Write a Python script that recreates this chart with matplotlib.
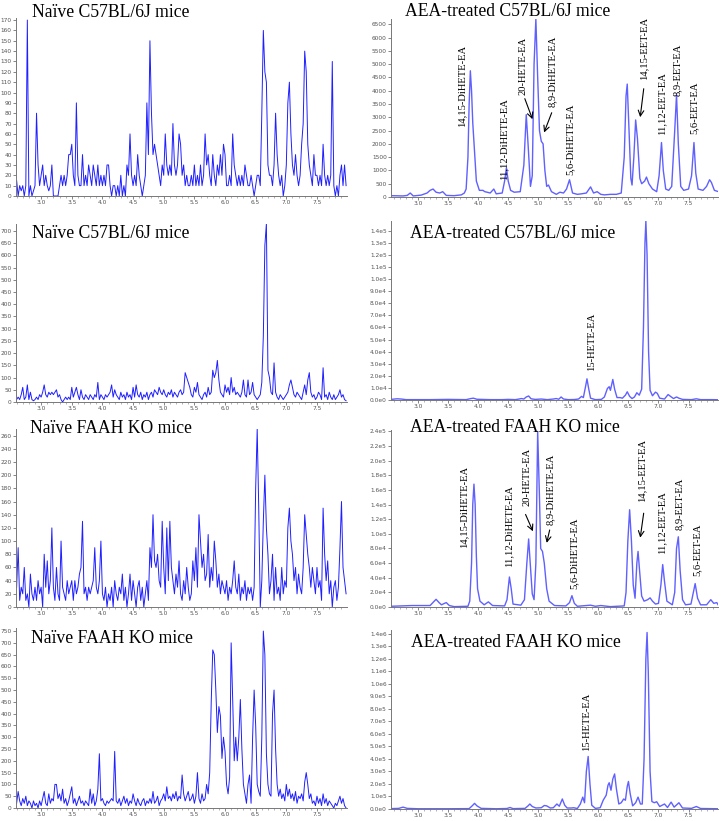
import matplotlib
matplotlib.use("Agg")
import matplotlib.pyplot as plt
from matplotlib.ticker import MultipleLocator, FuncFormatter
import numpy as np

W, H = 727, 821

# ---- noisy traces (naive mice), sampled every 0.025 min from 2.6 min ----
t_noisy = np.linspace(2.6, 7.975, 216)

naive_c57_a = [
    15, 0, 10, 5, 10, 0, 10, 170, 0, 10, 0, 5, 10, 80, 30, 10, 20, 30, 10, 20,
    10, 5, 10, 30, 0, 0, 0, 0, 10, 20, 10, 20, 10, 20, 40, 40, 50, 20, 10, 90,
    20, 10, 10, 40, 10, 20, 10, 30, 20, 10, 30, 20, 10, 30, 10, 20, 10, 20, 10, 30,
    30, 10, 0, 10, 10, 0, 10, 0, 20, 0, 10, 0, 30, 20, 60, 20, 10, 20, 10, 40,
    20, 10, 0, 10, 20, 90, 40, 150, 80, 40, 50, 40, 30, 20, 10, 30, 20, 60, 30, 20,
    30, 20, 70, 30, 20, 30, 60, 50, 20, 30, 10, 20, 10, 10, 20, 10, 30, 10, 20, 10,
    30, 10, 20, 60, 30, 40, 20, 10, 40, 20, 10, 30, 20, 40, 20, 50, 40, 10, 10, 20,
    10, 60, 30, 20, 10, 20, 10, 20, 10, 30, 20, 10, 10, 20, 10, 0, 10, 20, 20, 10,
    80, 160, 120, 110, 30, 20, 20, 10, 30, 80, 40, 20, 10, 20, 0, 10, 30, 90, 110, 60,
    30, 20, 40, 20, 10, 20, 50, 70, 140, 120, 50, 30, 20, 10, 40, 20, 20, 10, 20, 10,
    50, 20, 10, 20, 10, 20, 130, 10, 0, 10, 0, 20, 30, 10, 30, 10]

naive_c57_b = [
    10, 20, 10, 30, 60, 10, 20, 70, 10, 40, 10, 5, 10, 20, 10, 30, 20, 40, 70, 30,
    20, 40, 30, 40, 30, 40, 50, 20, 30, 10, 0, 10, 20, 10, 20, 10, 60, 20, 40, 60,
    30, 10, 50, 20, 10, 30, 20, 10, 30, 20, 10, 30, 20, 80, 10, 30, 20, 10, 30, 20,
    30, 40, 70, 20, 50, 30, 20, 10, 40, 20, 30, 10, 40, 20, 30, 10, 60, 20, 70, 30,
    20, 40, 10, 30, 20, 40, 10, 30, 40, 20, 50, 40, 30, 60, 40, 30, 50, 30, 20, 40,
    30, 50, 20, 40, 30, 20, 40, 50, 30, 40, 120, 100, 80, 60, 30, 20, 60, 40, 80, 30,
    20, 10, 30, 40, 20, 60, 30, 40, 130, 100, 120, 170, 90, 40, 30, 20, 70, 40, 60, 30,
    100, 40, 60, 30, 40, 30, 20, 40, 90, 30, 20, 90, 30, 40, 80, 30, 20, 10, 20, 30,
    80, 270, 640, 730, 130, 100, 40, 30, 160, 40, 20, 10, 30, 20, 10, 20, 30, 40, 70, 90,
    60, 30, 20, 40, 30, 20, 10, 40, 70, 30, 90, 120, 40, 20, 30, 10, 20, 40, 30, 10,
    140, 20, 30, 10, 40, 20, 10, 30, 10, 20, 30, 50, 20, 30, 10, 5]

naive_ko_a = [
    30, 90, 10, 30, 20, 60, 10, 20, 0, 50, 20, 10, 30, 10, 40, 20, 30, 0, 80, 30,
    70, 20, 40, 120, 30, 10, 60, 20, 10, 100, 30, 20, 10, 40, 20, 30, 40, 10, 40, 20,
    30, 50, 60, 130, 20, 30, 10, 30, 20, 30, 40, 90, 30, 20, 40, 100, 20, 10, 30, 0,
    20, 10, 30, 0, 40, 20, 10, 30, 20, 50, 10, 30, 0, 20, 50, 10, 40, 20, 0, 30,
    40, 10, 30, 0, 20, 40, 10, 90, 60, 140, 70, 60, 80, 40, 30, 130, 60, 20, 120, 40,
    130, 60, 40, 20, 50, 30, 70, 20, 10, 40, 20, 60, 30, 10, 20, 70, 40, 90, 30, 140,
    100, 60, 80, 40, 50, 110, 30, 60, 40, 100, 70, 30, 50, 20, 40, 30, 20, 40, 10, 30,
    20, 40, 70, 30, 20, 50, 10, 30, 20, 40, 10, 30, 20, 30, 10, 30, 180, 270, 150, 0,
    40, 130, 200, 120, 80, 20, 40, 80, 10, 60, 20, 30, 10, 60, 20, 40, 30, 120, 150, 100,
    80, 40, 60, 20, 50, 30, 20, 60, 140, 110, 80, 60, 30, 60, 40, 20, 60, 30, 40, 10,
    150, 80, 40, 70, 20, 40, 0, 30, 40, 10, 30, 90, 160, 60, 40, 20]

naive_ko_b = [
    20, 70, 30, 10, 40, 20, 50, 10, 30, 20, 0, 30, 10, 20, 0, 30, 10, 40, 70, 20,
    10, 60, 20, 40, 30, 100, 100, 40, 60, 30, 80, 20, 40, 10, 30, 60, 90, 20, 40, 10,
    30, 50, 20, 30, 10, 30, 20, 10, 80, 20, 60, 10, 30, 80, 230, 30, 40, 20, 10, 30,
    20, 30, 40, 30, 240, 30, 20, 40, 10, 30, 50, 20, 40, 10, 30, 20, 60, 30, 10, 40,
    20, 10, 30, 40, 10, 30, 20, 40, 20, 70, 20, 30, 50, 10, 30, 40, 60, 30, 90, 40,
    50, 30, 60, 40, 70, 30, 50, 40, 140, 60, 30, 50, 70, 30, 40, 60, 20, 50, 150, 40,
    20, 60, 30, 40, 100, 60, 150, 450, 670, 650, 500, 320, 430, 390, 210, 300, 240, 100, 60, 130,
    700, 460, 200, 300, 200, 300, 460, 250, 100, 60, 20, 100, 140, 20, 300, 500, 350, 100, 70, 50,
    300, 750, 650, 230, 100, 60, 50, 400, 500, 250, 100, 50, 80, 40, 60, 30, 100, 50, 80, 40,
    60, 30, 70, 20, 50, 40, 60, 30, 110, 150, 100, 40, 60, 20, 30, 10, 50, 20, 40, 10,
    60, 20, 40, 10, 30, 20, 10, 0, 20, 10, 30, 50, 20, 40, 10, 0]

# ---- smooth traces (AEA-treated mice) ----
aea_c57_a_t = [2.55, 2.75, 2.82, 2.87, 2.92, 3.05, 3.15, 3.2, 3.25, 3.3, 3.36, 3.41, 3.47,
               3.6, 3.72, 3.77, 3.8, 3.83, 3.85, 3.87, 3.89, 3.91, 3.94, 3.97, 4.02, 4.08,
               4.11, 4.15, 4.2, 4.26, 4.3, 4.4, 4.44, 4.47, 4.5, 4.54, 4.6, 4.7, 4.76, 4.8,
               4.83, 4.87, 4.9, 4.93, 4.96, 4.99, 5.02, 5.05, 5.08, 5.11, 5.14, 5.17, 5.22,
               5.3, 5.36, 5.42, 5.47, 5.52, 5.57, 5.65, 5.72, 5.8, 5.87, 5.92, 5.98, 6.04,
               6.1, 6.2, 6.3, 6.38, 6.43, 6.46, 6.48, 6.51, 6.54, 6.56, 6.59, 6.62, 6.65,
               6.69, 6.72, 6.77, 6.8, 6.84, 6.9, 6.97, 7.01, 7.05, 7.08, 7.12, 7.17, 7.22,
               7.27, 7.3, 7.33, 7.37, 7.42, 7.5, 7.55, 7.59, 7.62, 7.66, 7.74, 7.8, 7.85,
               7.88, 7.93, 8.0]
aea_c57_a_y = [50, 40, 60, 150, 40, 70, 150, 250, 300, 180, 150, 200, 60,
               50, 80, 150, 300, 1500, 3500, 4750, 4000, 2800, 1700, 600, 250, 250,
               200, 180, 150, 300, 120, 150, 600, 1100, 600, 250, 180, 200, 1200, 3100,
               2000, 400, 800, 5000, 6700, 4500, 2500, 2100, 2000, 1000, 400, 450, 200,
               100, 180, 150, 300, 650, 150, 100, 120, 150, 380, 150, 200, 100,
               80, 100, 100, 150, 1500, 3800, 4250, 2500, 700, 450, 1500, 2900, 2200,
               700, 500, 600, 750, 500, 300, 200, 800, 2050, 1000, 300, 250, 400,
               2500, 3850, 2000, 400, 250, 300, 800, 2050, 900, 300, 250, 400, 650,
               550, 250, 200]

aea_c57_b_t = [2.55, 2.65, 2.72, 2.8, 3.2, 3.5, 3.8, 3.88, 3.92, 3.98, 4.2, 4.4, 4.5, 4.62,
               4.68, 4.72, 4.76, 4.8, 4.84, 4.88, 4.95, 5.05, 5.15, 5.25, 5.3, 5.34, 5.38,
               5.42, 5.5, 5.6, 5.67, 5.72, 5.75, 5.79, 5.81, 5.84, 5.87, 5.95, 6.05, 6.1,
               6.15, 6.18, 6.2, 6.24, 6.27, 6.31, 6.36, 6.4, 6.45, 6.48, 6.52, 6.56, 6.6,
               6.64, 6.68, 6.72, 6.75, 6.775, 6.79, 6.81, 6.835, 6.86, 6.9, 6.95, 6.98,
               7.02, 7.1, 7.16, 7.2, 7.25, 7.3, 7.34, 7.4, 7.55, 7.63, 7.7, 7.9, 8.0]
aea_c57_b_y = [500, 1000, 800, 300, 300, 500, 300, 1200, 1500, 600, 300, 300, 500, 300,
               800, 1200, 800, 2500, 3300, 1000, 500, 800, 300, 800, 1200, 600, 2500,
               800, 300, 400, 800, 3000, 2000, 12000, 17500, 9000, 1500, 300, 500, 2500,
               9500, 11000, 8000, 17000, 9000, 2000, 2000, 1500, 4000, 6800, 3000, 1200, 2500,
               6000, 4000, 9000, 60000, 130000, 148000, 120000, 40000, 8000, 3500, 6500, 5500,
               1500, 800, 4500, 3000, 1200, 2500, 1500, 500, 300, 1000, 300, 300, 200]

aea_ko_a_t = [2.55, 2.9, 3.2, 3.27, 3.3, 3.35, 3.39, 3.44, 3.47, 3.52, 3.6, 3.83, 3.86, 3.89,
              3.91, 3.93, 3.95, 3.97, 3.99, 4.03, 4.1, 4.17, 4.24, 4.44, 4.48, 4.52, 4.55,
              4.58, 4.71, 4.77, 4.81, 4.84, 4.87, 4.9, 4.93, 4.96, 4.99, 5.02, 5.04, 5.07,
              5.1, 5.14, 5.18, 5.27, 5.46, 5.52, 5.56, 5.6, 5.65, 5.87, 5.95, 6.04, 6.2,
              6.43, 6.46, 6.49, 6.52, 6.55, 6.58, 6.61, 6.64, 6.66, 6.69, 6.72, 6.76, 6.82,
              6.86, 6.9, 6.95, 7.0, 7.04, 7.07, 7.1, 7.14, 7.23, 7.27, 7.3, 7.33, 7.36, 7.4,
              7.45, 7.54, 7.58, 7.61, 7.65, 7.7, 7.8, 7.84, 7.87, 7.92, 7.97, 8.0]
aea_ko_a_y = [1000, 2000, 2000, 8000, 10500, 6000, 3000, 5000, 6000, 2000, 500, 1000, 8000, 60000,
              140000, 168000, 140000, 70000, 25000, 8000, 3000, 7000, 2000, 1500, 10000, 41000, 25000,
              4000, 2500, 10000, 60000, 93000, 55000, 18000, 10000, 60000, 240000, 150000, 80000, 76000,
              60000, 25000, 8000, 2000, 1500, 6000, 15500, 5000, 1000, 2500, 1000, 2000, 500,
              1500, 20000, 90000, 133000, 90000, 30000, 12000, 60000, 76000, 45000, 15000, 8000, 10000,
              12500, 8000, 4000, 5000, 30000, 58000, 35000, 8000, 3000, 20000, 80000, 96000, 50000, 10000,
              3000, 4000, 20000, 32000, 12000, 3000, 3000, 7000, 10000, 5000, 6000, 2000]

aea_ko_b_t = [2.55, 2.68, 2.75, 2.82, 3.0, 3.5, 3.85, 3.9, 3.94, 3.98, 4.05, 4.3, 4.48, 4.53,
              4.58, 4.78, 4.83, 4.86, 4.9, 4.96, 5.05, 5.1, 5.14, 5.2, 5.25, 5.31, 5.35, 5.4,
              5.44, 5.48, 5.55, 5.59, 5.65, 5.7, 5.74, 5.77, 5.8, 5.83, 5.86, 5.89, 5.95, 6.03,
              6.08, 6.13, 6.16, 6.18, 6.21, 6.24, 6.27, 6.3, 6.34, 6.38, 6.42, 6.45, 6.48, 6.5,
              6.53, 6.57, 6.62, 6.66, 6.7, 6.73, 6.76, 6.79, 6.81, 6.83, 6.86, 6.89, 6.93, 6.97,
              7.02, 7.1, 7.15, 7.21, 7.26, 7.34, 7.4, 7.55, 7.63, 7.7, 8.0]
aea_ko_b_y = [3000, 5000, 15000, 5000, 2000, 2000, 3000, 25000, 45000, 25000, 5000, 2000, 4000, 12000,
              3000, 5000, 25000, 40000, 20000, 8000, 10000, 28000, 25000, 8000, 10000, 40000, 22000, 80000,
              30000, 8000, 8000, 10000, 4000, 40000, 95000, 50000, 300000, 420000, 200000, 30000, 5000, 10000,
              70000, 110000, 190000, 210000, 150000, 240000, 280000, 160000, 40000, 50000, 80000, 70000, 180000, 220000,
              120000, 25000, 50000, 95000, 40000, 40000, 400000, 1200000, 1410000, 1100000, 300000, 60000, 50000, 58000,
              20000, 40000, 12000, 55000, 15000, 50000, 8000, 5000, 20000, 4000, 2000]

# peak labels: (text, time, bottom of text, arrow tail, arrow head)
labels_c57 = [
    ("14,15-DiHETE-EA", 3.73, 2620, None, None),
    ("11,12-DiHETE-EA", 4.43, 630, None, None),
    ("20-HETE-EA", 4.75, 3850, (4.76, 3800), (4.92, 2830)),
    ("8,9-DiHETE-EA", 5.23, 3400, (5.24, 3270), (5.08, 2330)),
    ("5,6-DiHETE-EA", 5.53, 820, None, None),
    ("14,15-EET-EA", 6.76, 4420, (6.76, 4180), (6.69, 2900)),
    ("11,12-EET-EA", 7.05, 2330, None, None),
    ("8,9-EET-EA", 7.32, 3800, None, None),
    ("5,6-EET-EA", 7.59, 2390, None, None),
]
labels_ko = [
    ("14,15-DiHETE-EA", 3.76, 81000, None, None),
    ("11,12-DiHETE-EA", 4.51, 54600, None, None),
    ("20-HETE-EA", 4.81, 138000, (4.77, 130000), (4.93, 100000)),
    ("8,9-DiHETE-EA", 5.21, 111600, (5.2, 109000), (5.13, 84000)),
    ("5,6-DiHETE-EA", 5.59, 25000, None, None),
    ("14,15-EET-EA", 6.73, 143500, (6.76, 132000), (6.69, 91000)),
    ("11,12-EET-EA", 7.06, 72000, None, None),
    ("8,9-EET-EA", 7.34, 105600, None, None),
    ("5,6-EET-EA", 7.64, 42400, None, None),
]

titles = ["Naïve C57BL/6J mice", "AEA-treated C57BL/6J mice",
          "Naïve C57BL/6J mice", "AEA-treated C57BL/6J mice",
          "Naïve FAAH KO mice", "AEA-treated FAAH KO mice",
          "Naïve FAAH KO mice", "AEA-treated FAAH KO mice"]
# title anchor (x px, baseline y px)
title_pos = [(32, 17), (405, 16), (32, 238), (410, 238),
             (30, 433), (410, 432), (31, 643), (411, 647)]

serif = "Liberation Serif"


def sci_fmt(v, pos):
    if v == 0:
        return "0.0e0"
    e = int(np.floor(np.log10(abs(v)) + 1e-9))
    return "%.1fe%d" % (v / 10 ** e, e)


def px_axes(fig, x0, top, x1, bottom):
    return fig.add_axes([x0 / W, 1 - bottom / H, (x1 - x0) / W, (bottom - top) / H])


def style(ax, xlim, ylim, ystep, sci=False):
    ax.set_xlim(*xlim)
    ax.set_ylim(*ylim)
    for s in ["top", "right"]:
        ax.spines[s].set_visible(False)
    for s in ["left", "bottom"]:
        ax.spines[s].set_color("#777777")
        ax.spines[s].set_linewidth(0.7)
    ax.xaxis.set_major_locator(MultipleLocator(0.5))
    ax.xaxis.set_minor_locator(MultipleLocator(0.1))
    ax.xaxis.set_major_formatter(FuncFormatter(lambda v, p: "%.1f" % v))
    ax.yaxis.set_major_locator(MultipleLocator(ystep))
    if sci:
        ax.yaxis.set_major_formatter(FuncFormatter(sci_fmt))
    else:
        ax.yaxis.set_major_formatter(FuncFormatter(lambda v, p: "%d" % v))
    ax.tick_params(axis="both", which="major", labelsize=4.2, colors="#555555",
                   length=2, width=0.5, pad=1)
    ax.tick_params(axis="x", which="minor", length=1.2, width=0.4, colors="#777777")
    ax.set_facecolor("none")


fig = plt.figure(figsize=(W / 100, H / 100), dpi=100)

noisy_col = "#1f1fff"
smooth_col = "#6060ff"
xl_left = (2.59, 7.99)
xl_right = (2.55, 7.99)


def noisy(ax, vals):
    ax.plot(t_noisy, vals, color=noisy_col, lw=0.7)


# row 1
ax = px_axes(fig, 16, 18, 347, 196)
noisy(ax, naive_c57_a)
style(ax, xl_left, (0, 172), 10)

ax = px_axes(fig, 391, 19, 718, 197)
ax.plot(aea_c57_a_t, aea_c57_a_y, color=smooth_col, lw=1.0)
style(ax, xl_right, (0, 6700), 500)
for txt, tx, ty, tail, head in labels_c57:
    ax.text(tx, ty, txt, rotation=90, ha="center", va="bottom", fontsize=7.6, family=serif)
    if tail is not None:
        ax.annotate("", xy=head, xytext=tail,
                    arrowprops=dict(arrowstyle="->", color="black", lw=0.8))

# row 2
ax = px_axes(fig, 16, 224, 347, 402)
noisy(ax, naive_c57_b)
style(ax, xl_left, (0, 728), 50)

ax = px_axes(fig, 391, 221, 718, 400)
ax.plot(aea_c57_b_t, aea_c57_b_y, color=smooth_col, lw=1.0)
style(ax, xl_right, (0, 1.48e5), 1e4, sci=True)
ax.text(5.88, 24250, "15-HETE-EA", rotation=90, ha="center", va="bottom", fontsize=7.6, family=serif)

# row 3
ax = px_axes(fig, 16, 429, 347, 607)
noisy(ax, naive_ko_a)
style(ax, xl_left, (0, 270), 20)

ax = px_axes(fig, 391, 430, 718, 607)
ax.plot(aea_ko_a_t, aea_ko_a_y, color=smooth_col, lw=1.0)
style(ax, xl_right, (0, 2.42e5), 2e4, sci=True)
for txt, tx, ty, tail, head in labels_ko:
    ax.text(tx, ty, txt, rotation=90, ha="center", va="bottom", fontsize=7.6, family=serif)
    if tail is not None:
        ax.annotate("", xy=head, xytext=tail,
                    arrowprops=dict(arrowstyle="->", color="black", lw=0.8))

# row 4
ax = px_axes(fig, 16, 628, 347, 808)
noisy(ax, naive_ko_b)
style(ax, xl_left, (0, 763), 50)

ax = px_axes(fig, 391, 630, 718, 809)
ax.plot(aea_ko_b_t, aea_ko_b_y, color=smooth_col, lw=1.0)
style(ax, xl_right, (0, 1.43e6), 1e5, sci=True)
ax.text(5.81, 460000, "15-HETE-EA", rotation=90, ha="center", va="bottom", fontsize=7.6, family=serif)

for txt, (x, y) in zip(titles, title_pos):
    fig.text(x / W, 1 - y / H, txt, ha="left", va="baseline", fontsize=12.7, family=serif)

fig.savefig("out.png", dpi=100)
